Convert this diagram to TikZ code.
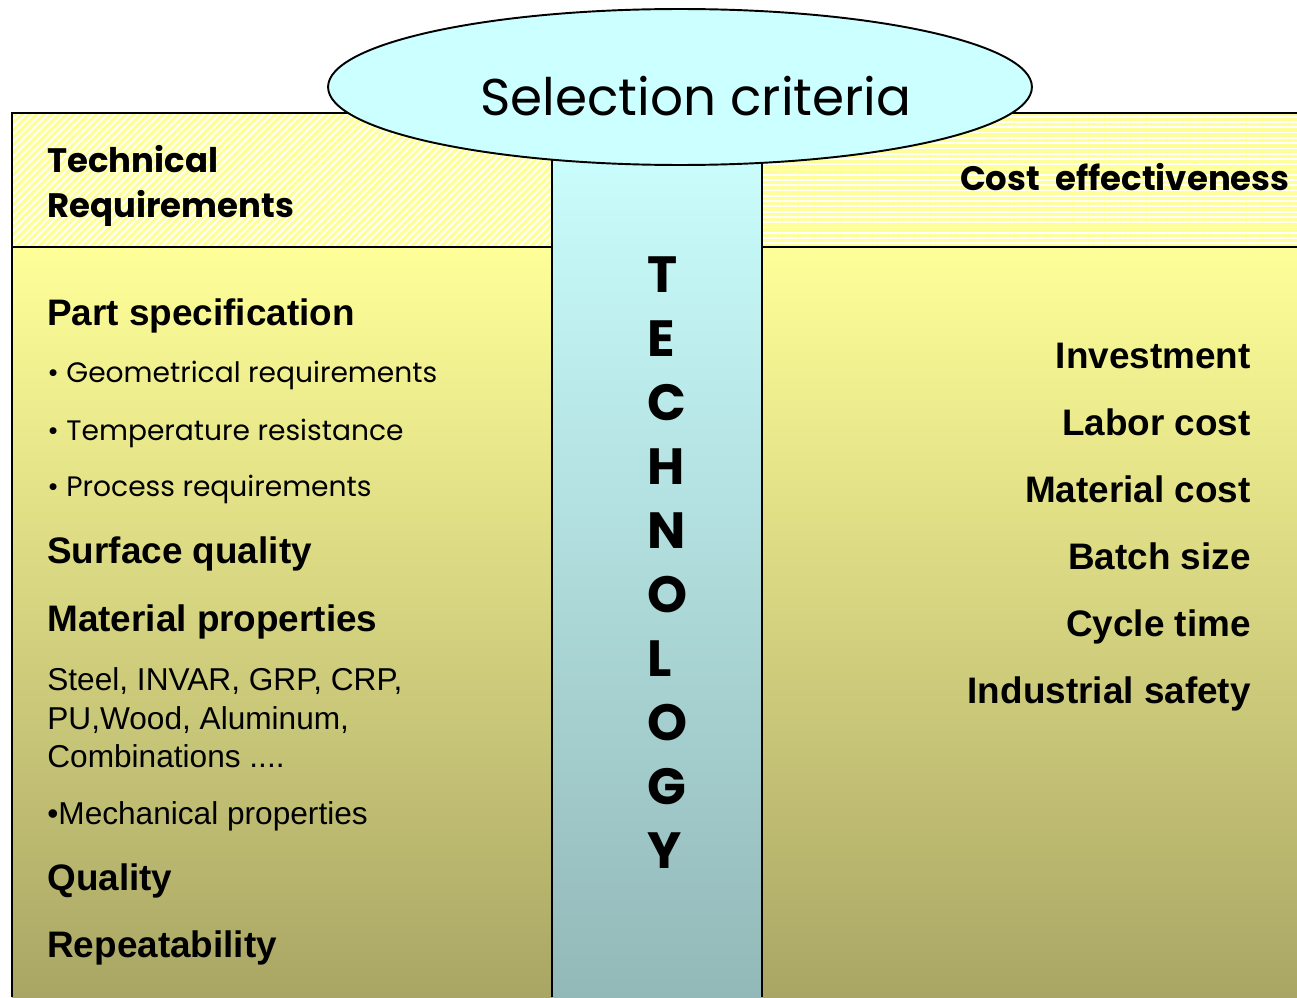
\documentclass[tikz,border=0pt]{standalone}
\usepackage{fontspec}
\setmainfont{Liberation Sans}
\newfontfamily\gothic{Poppins}
\usetikzlibrary{shapes.geometric,patterns.meta}

\definecolor{paleyellow}{HTML}{FFFF99}
\definecolor{oliveyellow}{HTML}{A9A665}
\definecolor{palecyan}{HTML}{CCFFFF}
\definecolor{greycyan}{HTML}{93B8B8}

\begin{document}
\begin{tikzpicture}[
        x=0.02cm, y=-0.02cm,
        outline/.style={line width=1.1pt},
        heading/.style={font=\gothic\fontsize{19.3}{26}\selectfont\bfseries, inner sep=0pt},
        topic/.style={font=\fontsize{21}{25}\selectfont\bfseries, inner sep=0pt, anchor=base west},
        bullet/.style={font=\gothic\fontsize{16}{20}\selectfont, inner sep=0pt, anchor=base west},
        material/.style={font=\fontsize{18}{22}\selectfont, inner sep=0pt, anchor=base west},
        cost/.style={font=\fontsize{21}{25}\selectfont\bfseries, inner sep=0pt, anchor=base east},
        letter/.style={font=\gothic\fontsize{29}{32}\selectfont\bfseries, inner sep=0pt, anchor=base west}
    ]
    \useasboundingbox (0,0) rectangle (1297,997);

    % header strips
    \fill[paleyellow] (12,113) rectangle (552,247);
    \fill[pattern={Lines[angle=45,distance=3pt,line width=1pt]}, pattern color=white] (12,113) rectangle (552,247);
    \fill[paleyellow] (762,113) rectangle (1297,247);
    \fill[pattern={Lines[angle=0,distance=3pt,line width=1pt]}, pattern color=white] (762,113) rectangle (1297,247);

    % panel bodies and middle column
    \shade[top color=paleyellow, bottom color=oliveyellow] (12,247) rectangle (552,997);
    \shade[top color=paleyellow, bottom color=oliveyellow] (762,247) rectangle (1297,997);
    \shade[top color=palecyan, bottom color=greycyan] (552,130) rectangle (762,997);

    \draw[outline] (12,997) -- (12,113) -- (552,113);
    \draw[outline] (12,247) -- (552,247);
    \draw[outline] (552,130) -- (552,997);
    \draw[outline] (762,130) -- (762,997);
    \draw[outline] (762,113) -- (1297,113);
    \draw[outline] (762,247) -- (1297,247);

    \node[ellipse, draw, outline, fill=palecyan, inner sep=0pt,
          minimum width=14.08cm, minimum height=3.12cm] (criteria) at (680,87) {};
    \node[font=\gothic\fontsize{29.4}{34}\selectfont, inner sep=0pt, anchor=base] (title) at (696,115) {Selection criteria};

    \node[heading, anchor=west, align=left] (technical) at (47,186) {Technical\\Requirements};
    \node[heading, anchor=base east] (effectiveness) at (1290,190) {Cost\hspace{0.45em}effectiveness};

    % vertical word in the column
    \foreach \l [count=\i] in {T,E,C,H,N,O,L,O,G,Y}
        \node[letter] (tech\i) at (647,{292+64*(\i-1)}) {\l};

    % left panel
    \node[topic] (partspec) at (47,325) {Part specification};
    \node[bullet] (geometry) at (47,382) {• Geometrical requirements};
    \node[bullet] (temperature) at (47,440) {• Temperature resistance};
    \node[bullet] (process) at (47,496) {• Process requirements};
    \node[topic] (surface) at (47,563) {Surface quality};
    \node[topic] (matprop) at (47,631) {Material properties};
    \node[material] (steel) at (47,690) {Steel, INVAR, GRP, CRP,};
    \node[material] (wood) at (47,729) {PU,Wood, Aluminum,};
    \node[material] (combi) at (47,767) {Combinations ....};
    \node[material] (mechanical) at (47,824) {•Mechanical properties};
    \node[topic] (quality) at (47,890) {Quality};
    \node[topic] (repeat) at (47,957) {Repeatability};

    % right panel
    \node[cost] (invest) at (1251,368) {Investment};
    \node[cost] (labor) at (1251,435) {Labor cost};
    \node[cost] (matcost) at (1251,502) {Material cost};
    \node[cost] (batch) at (1251,569) {Batch size};
    \node[cost] (cycle) at (1251,636) {Cycle time};
    \node[cost] (safety) at (1251,703) {Industrial safety};
\end{tikzpicture}
\end{document}
